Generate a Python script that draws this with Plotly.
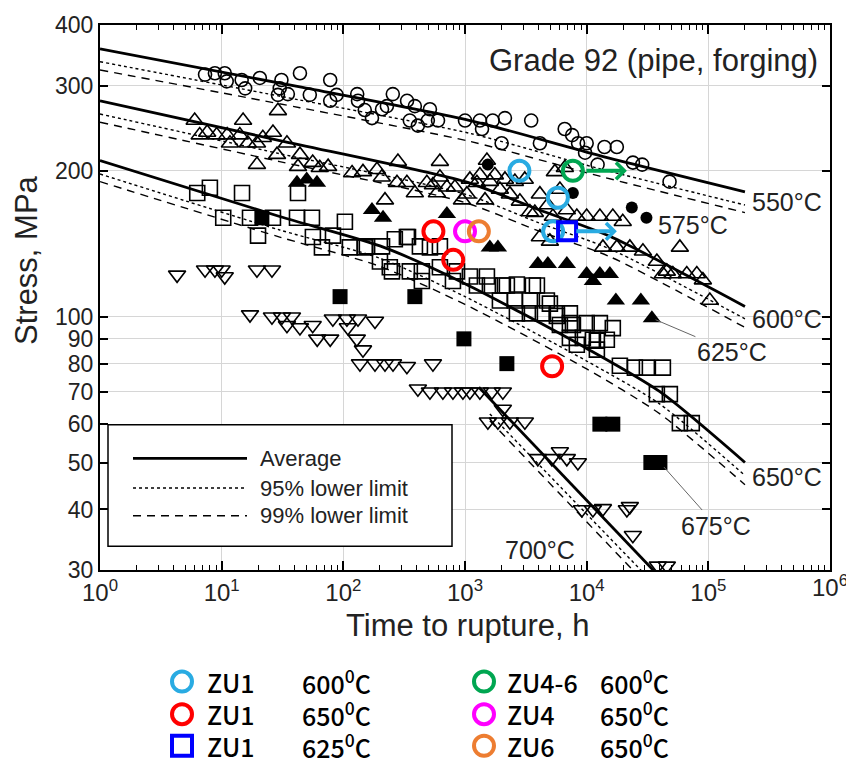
import numpy as np
import plotly.graph_objects as go

# ---------------- data: (time to rupture [h], stress [MPa]) ----------------
pts_550 = [(7.3,316),(8.8,318),(10.6,318),(11,306),(14.6,308),(15.6,296),(20.6,311),(30,296),(31,308),
           (44,318),(29,287),(35,288),(53,287),(78,308),(78,279),(88,287),(130,288),(132,279),(150,267),
           (172,257),(208,268),(255,288),(228,272),(334,279),(387,272),(352,254),(410,248),(515,268),
           (495,254),(600,254),(1000,254),(1325,254),(1690,254),(2130,257),(1380,244),(2000,228),
           (3500,254),(4126,228),(6600,244),(7600,237),(8500,228),(10000,228),(9700,218),(12300,206),
           (14000,224),(17700,224),(24000,208),(28600,206),(48000,190)]
pts_575 = [(1540,206),(7700,180),(23500,168),(31000,160)]
pts_600 = [(6.0,254),(7.6,240),(6.6,237),(9.1,237),(11.7,228),(11.1,237),(15,254),(14.1,237),(16.4,228),
           (19.5,228),(21.8,234),(26.4,240),(29,266),(28.5,216),(34.4,228),(19.5,206),(44,216),(42.4,204),
           (56,208),(64,203),(75,204),(118,198),(145,199),(189,201),(207,194),(281,209),(220,174),
           (276,189),(333,189),(387,180),(486,189),(622,209),(622,194),(588,180),(710,185),(826,185),
           (944,174),(1514,210),(545,187),(1037,179),(1253,189),(1602,190),(1936,183),(2339,179),
           (2826,173),(3415,164.5),(4126,179),(3750,164),(4800,170),(5275,161),(6870,166),(8300,161),
           (10000,161),(12840,161),(16400,161),(19800,157),(4126,146),(4986,143),(13600,139),(17700,139),
           (22650,139),(29000,136.5),(37750,130),(45600,124),(58340,139),(42300,122.5),(51100,122.5),
           (66500,122.5),(80400,122.5),(90200,119),(102900,108),(1325,196),(1760,196),(2130,192),
           (2570,190),(3100,192),(1097,192),(1460,174),(5480,199),(6620,203),(6024,183)]
pts_625 = [(41.6,189),(60.7,189),(50,192),(172,166),(212,160),(710,163),(1600,139),(1864,139),(3970,128.5),
           (4800,128.5),(6870,128.5),(10000,122.5),(12840,122.5),(15515,122.5),(11250,118.5),(17380,108),
           (27880,108),(34360,99.3)]
pts_650 = [(6.3,180),(8.0,184.5),(14.7,180),(42.4,180),(10.3,160),(17.1,160),(19.9,147),(26.4,160),
           (41.6,160),(55.2,160),(103,157),(56.2,146),(66.7,139),(82.2,147),(113,139),(150,139),(208,139.7),
           (265,144.5),(340,146),(426,139.7),(515,139),(622,139.7),(200,130),(251,124),(352,124),(442,124),
           (622,126.5),(858,124),(442,118.5),(796,118.5),(1097,121),(1514,121),(1253,116),(1602,116),
           (2047,116),(2670,116.5),(3614,116),(2209,116),(3900,116),(1936,108),(2570,108),(3415,108),
           (4710,108),(4986,106.4),(2670,101.6),(3415,101.6),(4365,101.6),(5690,101.6),(7279,101.6),
           (5690,100.4),(7279,97),(6024,96.1),(7709,96.1),(10000,97),(12840,97),(16400,94.7),(7279,90.4),
           (9300,90.4),(12130,89.2),(8300,87.5),(11250,89.6),(14650,89.6),(12130,85.5),(18750,79.2),
           (24900,78.5),(31250,78.5),(42300,78.5),(37750,69.2),(48280,69.2),(58340,60.3),(73100,60.3),
           (241,126.5),(333,146),(156,139.7)]
pts_675 = [(21.4,160),(94,110),(387,110),(980,90),(2209,80),(12840,60),(16400,60),(33700,50),(40000,50)]
pts_700 = [(4.3,122),(7.3,125),(8.8,125),(10.6,121),(10.0,125),(19.5,125),(25.9,125),(17.1,101),(25.9,100),
           (31.3,100),(37.8,100),(34.4,96),(44,95),(56,96),(61,90),(78,90),(82,99),(107,99),(132,99),(182,98),
           (109,95),(129,90),(145,85.5),(137,80),(182,80),(220,80),(256,80),(333,79),(545,80),(410,71),
           (515,70),(658,70),(796,70),(961,70),(1097,70),(1325,70),(1664,70),(2047,70),(2047,64.5),
           (1542,60.7),(1864,60.7),(2339,60.7),(3105,60.7),(3970,51),(5176,51),(6024,52.7),(6870,51),
           (8470,50),(9140,40),(11250,40),(13600,40.2),(21400,40),(22650,40.6),(23970,35.4),
           (38450,30.6),(45600,30.6)]

# average / lower limit curves (knots)
c550_t = [1, 44, 1100, 12800, 2e5]
c550_avg = [357, 298, 254, 215, 181]
c550_95 = [336, 280, 239, 202, 170]
c550_99 = [323, 270, 230, 195, 164]
c600_t = [1, 30, 1000, 4100, 15500, 2e5]
c600_avg = [279, 231, 190, 166, 146.5, 105]
c600_95 = [262, 217, 179, 156, 138, 99]
c600_99 = [252, 209, 172, 150, 133, 95]
c650_t = [1, 30, 200, 1000, 10000, 40000, 2e5]
c650_avg = [210, 161, 140, 117, 86, 70, 50]
c650_95 = [197, 151, 132, 110, 81, 66, 47]
c650_99 = [190, 146, 127, 106, 78, 63, 45]
c700_t = [1300, 40000]
c700_avg = [71.5, 29]
c700_lt = [1600, 40000]
c700_95 = [63, 27.3]
c700_99 = [61, 26.2]

# ZU tests
zu1_600 = [(2800,200),(5800,176),(5300,150)]
zu46_600 = [(7700,200)]
zu1_650 = [(550,150),(800,131),(5200,79)]
zu4_650 = [(1000,150)]
zu6_650 = [(1300,150)]
zu1_625 = [(6900,150)]
runout = [(17700,150,'rgb(41,171,226)'),(21400,200,'rgb(0,166,81)')]

CYAN = 'rgb(41,171,226)'; RED = 'rgb(255,0,0)'; BLUE = 'rgb(0,0,255)'
GREEN = 'rgb(0,166,81)'; MAG = 'rgb(255,0,255)'; ORANGE = 'rgb(237,125,49)'

yticks = [30, 40, 50, 60, 70, 80, 90, 100, 200, 300, 400]
xticks = [1, 10, 100, 1000, 10000, 100000]
xticktext = ['10<sup>%d</sup>' % i for i in range(6)]

FONT = 'Liberation Sans, Arial, sans-serif'
fig = go.Figure()

def curve(t, s, dash, width):
    fig.add_trace(go.Scatter(x=t, y=s, mode='lines', showlegend=False, hoverinfo='skip',
                             line=dict(color='black', width=width, dash=dash, shape='spline', smoothing=0.7)))

for t, a, p95, p99 in [(c550_t, c550_avg, c550_95, c550_99), (c600_t, c600_avg, c600_95, c600_99),
                       (c650_t, c650_avg, c650_95, c650_99)]:
    curve(t, p95, '3px,3px', 1.4)
    curve(t, p99, '8px,6px', 1.4)
    curve(t, a, 'solid', 2.8)
curve(c700_lt, c700_95, '3px,3px', 1.4)
curve(c700_lt, c700_99, '8px,6px', 1.4)
curve(c700_t, c700_avg, 'solid', 2.8)

def pts(data, symbol, size, color='black', lw=1.6, name=None):
    t, s = zip(*data)
    fig.add_trace(go.Scatter(x=list(t), y=list(s), mode='markers', showlegend=False, name=name,
                             marker=dict(symbol=symbol, size=size, color=color,
                                         line=dict(color=color, width=lw))))

pts(pts_550, 'circle-open', 13, name='550')
pts(pts_600, 'triangle-up-open', 15, name='600')
pts(pts_650, 'square-open', 15, name='650')
pts(pts_700, 'triangle-down-open', 15, name='700')
pts(pts_575, 'circle', 12, lw=0, name='575')
pts(pts_625, 'triangle-up', 16, lw=0, name='625')
pts(pts_675, 'square', 15, lw=0, name='675')

pts(zu1_600, 'circle-open', 20, CYAN, 4, 'ZU1 600')
pts(zu46_600, 'circle-open', 20, GREEN, 4, 'ZU4-6 600')
pts(zu1_650, 'circle-open', 20, RED, 4, 'ZU1 650')
pts(zu4_650, 'circle-open', 20, MAG, 4, 'ZU4 650')
pts(zu6_650, 'circle-open', 20, ORANGE, 4, 'ZU6 650')
pts(zu1_625, 'square-open', 18, BLUE, 4, 'ZU1 625')

ann = []
for tt, ss, col in runout:
    ann.append(dict(x=np.log10(tt), y=np.log10(ss), xref='x', yref='y', ax=-42, ay=0, text='',
                    showarrow=True, arrowhead=4, arrowsize=0.8, arrowwidth=4, arrowcolor=col))

def txt(x, y, s, size=25, xanchor='left', **kw):
    d = dict(x=x, y=y, xref='paper', yref='paper', text=s, showarrow=False, xanchor=xanchor,
             yanchor='middle', font=dict(family=FONT, size=size, color='#222'))
    d.update(kw)
    ann.append(d)

W, H0, H1 = 730.0, 18, 570
px = lambda X: (X - 100) / W
py = lambda Y: (H1 - Y) / (H1 - H0)

txt(px(820), py(54), 'Grade 92 (pipe, forging)', 31, xanchor='right')
txt(px(750), py(197), '550°C')
txt(px(656), py(221), '575°C')
txt(px(750), py(316), '600°C')
txt(px(750), py(476), '650°C')
txt(px(503), py(550), '700°C')
ann.append(dict(x=np.log10(34360), y=np.log10(99.3), xref='x', yref='y', ax=80, ay=34, text='625°C',
                showarrow=True, arrowhead=0, arrowwidth=1, arrowcolor='#666', standoff=4,
                font=dict(family=FONT, size=25, color='#222')))
ann.append(dict(x=np.log10(40000), y=np.log10(50), xref='x', yref='y', ax=56, ay=63, text='675°C',
                showarrow=True, arrowhead=0, arrowwidth=1, arrowcolor='#666', standoff=6,
                font=dict(family=FONT, size=25, color='#222')))
# last x tick label (partly beyond the figure edge, as in the original)
txt(1.0, py(586), '10<sup>6</sup>', 24, xanchor='center')
# axis titles
txt(px(468), py(626), 'Time to rupture, h', 31, xanchor='center')
txt(px(27), py(256), 'Stress, MPa', 31, xanchor='center', textangle=-90)

# inner legend
shapes = [dict(type='rect', xref='paper', yref='paper', x0=px(108), x1=px(452), y0=py(546), y1=py(423),
               line=dict(color='black', width=1.5), fillcolor='white', layer='above')]
for Y, dash, w, label in [(457, 'solid', 2.8, 'Average'), (487, '3px,3px', 1.4, '95% lower limit'),
                          (515, '8px,6px', 1.4, '99% lower limit')]:
    shapes.append(dict(type='line', xref='paper', yref='paper', x0=px(133), x1=px(247), y0=py(Y), y1=py(Y),
                       line=dict(color='black', width=w, dash=dash), layer='above'))
    txt(px(258), py(Y), label, 22)

# bottom legend
LFONT = 'Noto Sans CJK SC, sans-serif'
rows = [683, 716, 748]
left = [('circle', CYAN, 'ZU1', '600<sup>0</sup>C'), ('circle', RED, 'ZU1', '650<sup>0</sup>C'),
        ('square', BLUE, 'ZU1', '625<sup>0</sup>C')]
right = [('circle', GREEN, 'ZU4-6', '600<sup>0</sup>C'), ('circle', MAG, 'ZU4', '650<sup>0</sup>C'),
         ('circle', ORANGE, 'ZU6', '650<sup>0</sup>C')]
for col_x, txt_x, temp_x, items in [(182, 205, 300, left), (484, 505, 598, right)]:
    for Y, (sym, colr, nm, temp) in zip(rows, items):
        r = 10
        shapes.append(dict(type='circle' if sym == 'circle' else 'rect', xref='paper', yref='paper',
                           xsizemode='pixel', ysizemode='pixel', xanchor=px(col_x), yanchor=py(Y),
                           x0=-r, x1=r, y0=-r, y1=r, line=dict(color=colr, width=4)))
        for X, s in [(txt_x, nm), (temp_x, temp)]:
            ann.append(dict(x=px(X), y=py(Y), xref='paper', yref='paper', text=s, showarrow=False,
                            xanchor='left', yanchor='middle',
                            font=dict(family=LFONT, size=25, color='black', weight=500)))

minor_x = [m * 10 ** k for k in range(6) for m in range(2, 10)]

fig.update_layout(
    width=846, height=767, margin=dict(l=100, r=16, t=18, b=197),
    paper_bgcolor='white', plot_bgcolor='white',
    font=dict(family=FONT, size=24, color='#222'),
    annotations=ann, shapes=shapes, showlegend=False,
    xaxis=dict(type='log', range=[0, 6], tickmode='array', tickvals=xticks, ticktext=xticktext,
               ticks='inside', ticklen=9, tickwidth=1.5, tickcolor='black',
               minor=dict(tickmode='array', tickvals=minor_x, ticks='inside', ticklen=5, tickcolor='black',
                          tickwidth=1, showgrid=False),
               showline=True, linecolor='black', linewidth=2, mirror='allticks',
               showgrid=True, gridcolor='#d6d6d6', gridwidth=1, zeroline=False,
               tickfont=dict(size=24, family=FONT, color='#222')),
    yaxis=dict(type='log', range=[np.log10(30), np.log10(400)], tickmode='array', tickvals=yticks,
               ticktext=[str(v) for v in yticks], ticks='inside', ticklen=8, tickwidth=1.5, tickcolor='black',
               showline=True, linecolor='black', linewidth=2, mirror='allticks',
               showgrid=True, gridcolor='#d6d6d6', gridwidth=1, zeroline=False,
               tickfont=dict(size=23, family=FONT, color='#222')),
)

fig.write_html('out.html')
